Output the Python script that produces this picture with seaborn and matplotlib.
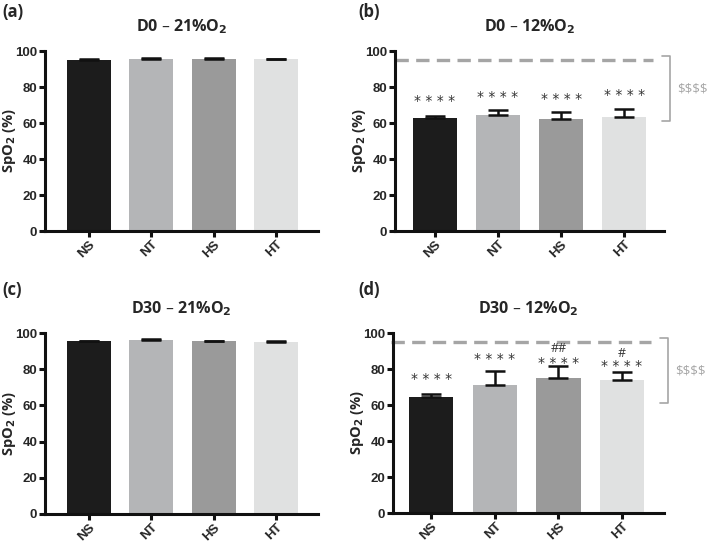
import numpy as np
import pandas as pd
import matplotlib
matplotlib.use("Agg")
import matplotlib.pyplot as plt
import seaborn as sns

groups = ["NS", "NT", "HS", "HT"]
colors = ["#1c1c1c", "#b4b5b7", "#9a9a9a", "#e0e1e1"]

d0_21 = [95.0, 95.7, 95.5, 95.4]
d0_21_err = [0.3, 0.5, 0.5, 0.4]
d0_12 = [62.6, 64.5, 62.3, 63.4]
d0_12_err = [1.5, 3.0, 3.9, 4.4]
d30_21 = [95.6, 96.3, 95.4, 95.0]
d30_21_err = [0.2, 0.5, 0.4, 0.4]
d30_12 = [64.6, 70.9, 75.0, 73.7]
d30_12_err = [1.3, 8.0, 6.5, 4.6]

# significance marks: text and height per bar
d0_12_stars = [72.5, 74.5, 73.5, 75.5]
d30_12_stars = [74.5, 85.5, 83.5, 81.5]
d30_12_hash = ["", "", "##", "#"]
d30_12_hash_y = [0, 0, 91.2, 88.6]
ref_line = 95

sns.set_style("ticks")
plt.rcParams["font.family"] = ["Open Sans", "DejaVu Sans"]

fig = plt.figure(figsize=(7.09, 5.43), dpi=100)
W, H = 709, 543
tick_font = {"family": "Liberation Sans", "weight": "bold", "size": 9.5}


def px_axes(left, right, top, bottom):
    ax = fig.add_axes([left / W, (H - bottom) / H, (right - left) / W, (bottom - top) / H])
    ax._px_width = right - left
    return ax


def panel(ax, vals, errs, title, xl):
    df = pd.DataFrame({"group": groups, "spo2": vals})
    sns.barplot(data=df, x="group", y="spo2", hue="group", palette=colors,
                width=0.7, saturation=1, legend=False, ax=ax, edgecolor="none")
    ax.errorbar(range(4), vals, yerr=[np.zeros(4), errs], fmt="none",
                ecolor="#111111", elinewidth=1.8, capsize=7, capthick=1.8, zorder=5)
    ax.set_ylim(0, 100)
    ax.set_xlim(*xl)
    ax.set_yticks([0, 20, 40, 60, 80, 100])
    ax.set_xlabel("")
    ax.set_ylabel("SpO$_\\mathbf{2}$ (%)", fontsize=10.5, fontweight="bold")
    ax.yaxis.set_label_coords(-27 / ax._px_width, 0.5)
    ax.set_title(title, fontsize=11.5, fontweight="bold", pad=14)
    for s in ["top", "right"]:
        ax.spines[s].set_visible(False)
    for s in ["left", "bottom"]:
        ax.spines[s].set_linewidth(2.2)
        ax.spines[s].set_color("#111111")
    ax.tick_params(width=2.2, length=4.5, color="#111111", pad=1)
    for lab in ax.get_yticklabels():
        lab.set_fontproperties(tick_font)
    for lab in ax.get_xticklabels():
        lab.set_fontproperties(tick_font)
        lab.set_rotation(45)
        lab.set_ha("right")
        lab.set_rotation_mode("anchor")


def hypoxia_marks(ax, star_y):
    ax.plot([-0.63, 3.45], [ref_line, ref_line], ls=(0, (4, 2.2)), color="#a5a5a5", lw=2.4,
            zorder=1, clip_on=False)
    ax.plot([3.6, 3.72, 3.72, 3.6], [97, 97, 61, 61], color="#a5a5a5", lw=1.2, clip_on=False)
    ax.text(3.83, 79, r"\$\$\$\$", color="#a5a5a5", fontsize=9.5, ha="left", va="center",
            clip_on=False)
    for i, y in enumerate(star_y):
        ax.text(i, y, "* * * *", ha="center", va="center", fontsize=10, color="#333333",
                family="DejaVu Sans")


ax_a = px_axes(45, 318, 51, 231)
panel(ax_a, d0_21, d0_21_err, "D0 – 21%O$_\\mathbf{2}$", (-0.7, 3.67))

ax_b = px_axes(395, 664, 51, 231)
panel(ax_b, d0_12, d0_12_err, "D0 – 12%O$_\\mathbf{2}$", (-0.63, 3.63))
hypoxia_marks(ax_b, d0_12_stars)

ax_c = px_axes(45, 318, 333, 514)
panel(ax_c, d30_21, d30_21_err, "D30 – 21%O$_\\mathbf{2}$", (-0.7, 3.67))

ax_d = px_axes(393, 664, 333, 513)
panel(ax_d, d30_12, d30_12_err, "D30 – 12%O$_\\mathbf{2}$", (-0.6, 3.66))
hypoxia_marks(ax_d, d30_12_stars)
for i, (h, y) in enumerate(zip(d30_12_hash, d30_12_hash_y)):
    if h:
        ax_d.text(i, y, h, ha="center", va="center", fontsize=9, color="#333333")

for lab, x, y in [("(a)", 2, 12), ("(b)", 358, 12), ("(c)", 2, 290), ("(d)", 358, 290)]:
    fig.text(x / W, 1 - y / H, lab, fontsize=12, fontweight="bold", va="center", ha="left")

fig.savefig("out.png", dpi=100)
